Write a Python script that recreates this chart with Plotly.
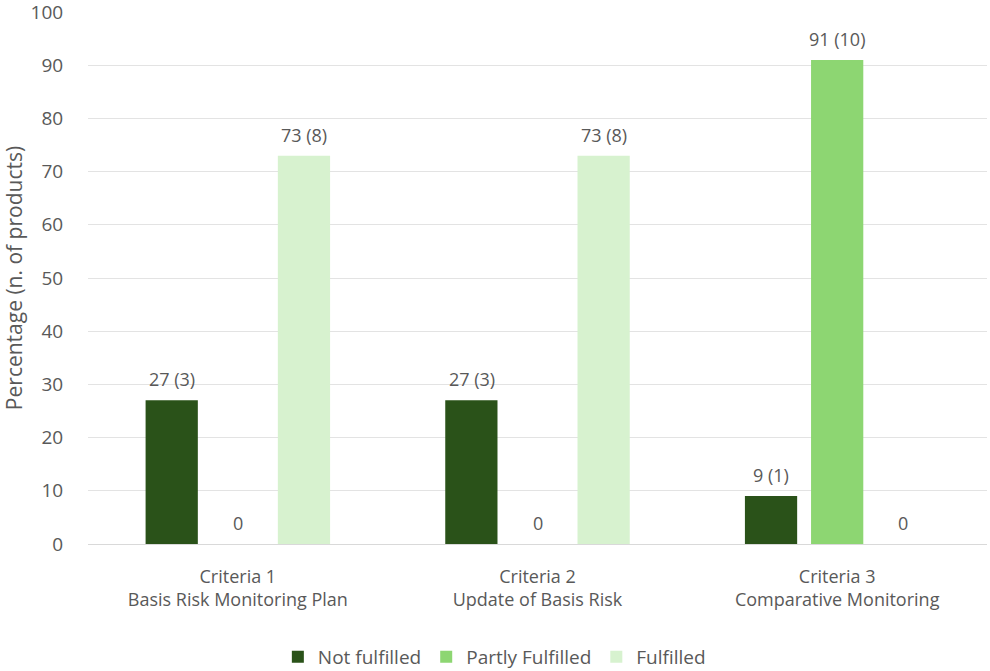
import plotly.graph_objects as go

categories = ["Criteria 1<br>Basis Risk Monitoring Plan",
              "Criteria 2<br>Update of Basis Risk",
              "Criteria 3<br>Comparative Monitoring"]
series_names = ["Not fulfilled", "Partly Fulfilled", "Fulfilled"]
pct_not = [27, 27, 9]
pct_partly = [0, 0, 91]
pct_full = [73, 73, 0]
n_not = [3, 3, 1]
n_partly = [0, 0, 10]
n_full = [8, 8, 0]
colors = ["#2a5219", "#8dd672", "#d7f2cf"]
GREY = "#595959"

def labels(p, n):
    return [f"{a} ({b})" if a != 0 else "0" for a, b in zip(p, n)]

fig = go.Figure()
series = list(zip(series_names, [pct_not, pct_partly, pct_full],
                  [n_not, n_partly, n_full], colors))
for name, p, n, c in series:
    fig.add_trace(go.Bar(
        x=categories, y=p, name=name, marker=dict(color=c, line=dict(width=0)),
        hoverinfo="x+y+name",
    ))

# value labels above bars
offsets = [-66, 0, 66]
for (name, p, n, c), dx in zip(series, offsets):
    for cat, txt, v in zip(categories, labels(p, n), p):
        fig.add_annotation(x=cat, y=v, text=txt, showarrow=False,
                           xshift=dx, yshift=21, yanchor="middle",
                           font=dict(size=18, color=GREY, family="Open Sans"))

fig.update_layout(
    width=990, height=671,
    margin=dict(l=88, r=3, t=12, b=127, autoexpand=False),
    plot_bgcolor="white", paper_bgcolor="white",
    font=dict(family="Open Sans", size=18, color=GREY),
    barmode="group", bargap=0.338, bargroupgap=0.21,
    legend=dict(orientation="h", x=0.452, xanchor="center", y=-0.212, yanchor="middle",
                font=dict(size=19, color=GREY), itemwidth=30,
                traceorder="normal", tracegroupgap=0),
    yaxis=dict(range=[0, 100], dtick=10, showgrid=True, gridcolor="#e3e3e3",
               gridwidth=1, zeroline=False, showline=False,
               ticks="outside", ticklen=20, tickcolor="rgba(0,0,0,0)",
               ticklabeloverflow="allow",
               title=dict(text="Percentage (n. of products)", standoff=20,
                          font=dict(size=21, color=GREY)),
               tickfont=dict(size=19, color=GREY)),
    xaxis=dict(showline=True, linecolor="#d9d9d9", ticks="outside", ticklen=16,
               tickcolor="rgba(0,0,0,0)",
               tickfont=dict(size=18, color=GREY)),
    showlegend=True,
)

fig.write_html("out.html")
